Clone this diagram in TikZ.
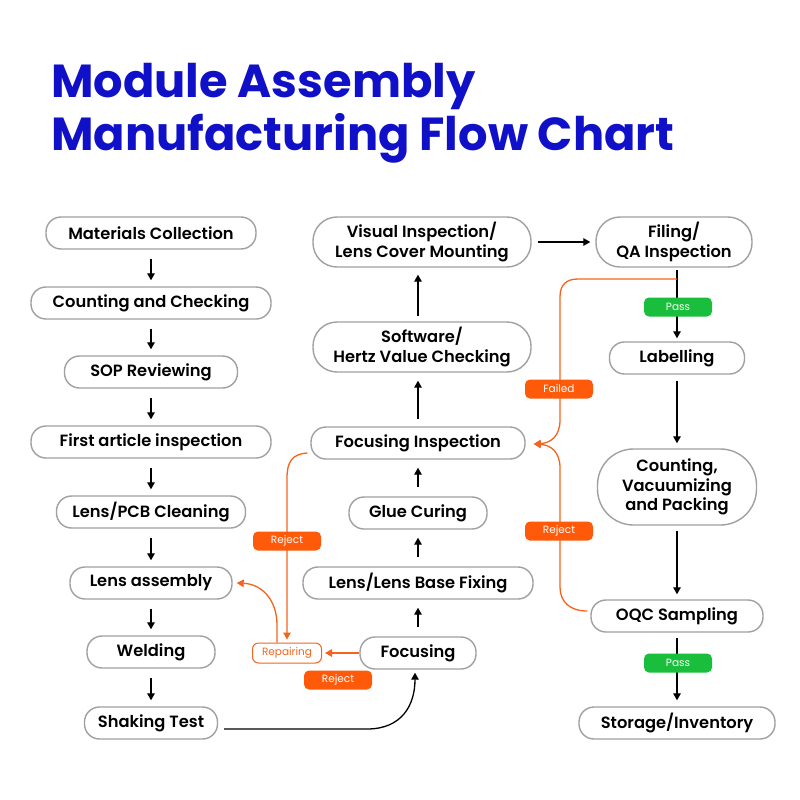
\documentclass[tikz,border=0pt]{standalone}
\usepackage{fontspec}
\setmainfont{Poppins}[BoldFont={Poppins SemiBold}]
\newfontfamily\ttlfont{Poppins Bold}
\usetikzlibrary{arrows.meta}
\definecolor{ttl}{RGB}{16,16,200}
\definecolor{bd}{RGB}{160,160,160}
\definecolor{org}{RGB}{245,100,30}
\definecolor{orgf}{RGB}{255,90,10}
\definecolor{grn}{RGB}{25,190,60}
\begin{document}
\begin{tikzpicture}[x=1pt,y=-1pt,
  box/.style={draw=bd, line width=1.4pt, rounded corners=15pt, minimum height=32pt,
    inner sep=0pt, align=center, font=\fontsize{16.3}{19.5}\selectfont\bfseries, text=black},
  boxtwo/.style={box, minimum height=50pt, rounded corners=24pt},
  boxthree/.style={box, minimum height=76pt, rounded corners=36pt},
  ar/.style={-{Triangle[length=7pt,width=7.5pt]}, line width=1.3pt, black},
  oar/.style={-{Triangle[length=7pt,width=7.5pt]}, line width=1.3pt, org},
  rej/.style={fill=orgf, rounded corners=5pt, minimum width=68pt, minimum height=19pt,
    inner sep=0pt, text=white, font=\fontsize{10.5}{12}\selectfont},
  pass/.style={rej, fill=grn},
  rep/.style={draw=org, line width=1pt, rounded corners=6pt, minimum width=69pt, minimum height=20pt,
    inner sep=0pt, text=org, font=\fontsize{10.5}{12}\selectfont},
  ttlstyle/.style={anchor=base west, inner sep=0pt, text=ttl, font=\fontsize{46.3}{50}\selectfont\ttlfont}
]
\useasboundingbox (0,0) rectangle (800,800);
\fill[white] (0,0) rectangle (800,800);

% title
\node[ttlstyle] (t1) at (51,97) {Module Assembly};
\node[ttlstyle] (t2) at (51,150) {Manufacturing Flow Chart};

% left column
\node[box, minimum width=210pt] (mc) at (151,233) {Materials Collection};
\node[box, minimum width=240pt] (cc) at (151,303) {Counting and Checking};
\node[box, minimum width=173pt] (sop) at (151,372) {SOP Reviewing};
\node[box, minimum width=240pt] (fa) at (151,442) {First article inspection};
\node[box, minimum width=189pt] (pcb) at (151,512) {Lens/PCB Cleaning};
\node[box, minimum width=162pt] (la) at (151,583) {Lens assembly};
\node[box, minimum width=128pt] (wd) at (151,652) {Welding};
\node[box, minimum width=133pt] (st) at (151,723) {Shaking Test};

% middle column
\node[boxtwo, minimum width=218pt] (vi) at (422,242) {Visual Inspection/\\Lens Cover Mounting};
\node[boxtwo, minimum width=218pt] (sw) at (422,347) {Software/\\Hertz Value Checking};
\node[box, minimum width=214pt] (fi) at (418,443) {Focusing Inspection};
\node[box, minimum width=138pt] (gc) at (418,513) {Glue Curing};
\node[box, minimum width=230pt] (lb) at (418,583) {Lens/Lens Base Fixing};
\node[box, minimum width=116pt] (fo) at (418,653) {Focusing};
\node[rep] (rp) at (287,653) {Repairing};

% right column
\node[boxtwo, minimum width=156pt] (qa) at (674,242) {Filing/\\QA Inspection};
\node[box, minimum width=135pt] (lab) at (677,358) {Labelling};
\node[boxthree, minimum width=159pt] (cvp) at (677,487) {Counting,\\Vacuumizing\\and Packing};
\node[box, minimum width=172pt] (oqc) at (677,616) {OQC Sampling};
\node[box, minimum width=196pt] (si) at (677,723) {Storage/Inventory};

% left arrows
\foreach \a/\b in {mc/cc, cc/sop, sop/fa, fa/pcb, pcb/la, la/wd, wd/st}
  \draw[ar, shorten <=9pt, shorten >=6pt] (\a) -- (\b);

% middle arrows
\draw[ar, shorten <=9pt, shorten >=8pt] (fo) -- (lb);
\draw[ar, shorten <=9pt, shorten >=8pt] (lb) -- (gc);
\draw[ar, shorten <=9pt, shorten >=8pt] (gc) -- (fi);
\draw[ar, shorten <=7pt, shorten >=8pt] (fi.north) -- (sw.south -| fi.north);
\draw[ar, shorten <=5pt, shorten >=7pt] (sw.north -| fi.north) -- (vi.south -| fi.north);
\draw[ar, shorten <=6pt, shorten >=5pt] (vi) -- (qa);

% right arrows
\coordinate (qs) at (677,267);
\coordinate (b1) at (677,279);
\draw[ar, shorten <=3pt, shorten >=3pt] (qs) -- (lab.north);
\draw[ar, shorten <=6pt, shorten >=5pt] (lab) -- (cvp);
\draw[ar, shorten <=5pt, shorten >=5pt] (cvp) -- (oqc);
\draw[ar, shorten <=5pt, shorten >=6pt] (oqc) -- (si);

% shaking test -> focusing
\draw[ar] ([xshift=6pt,yshift=-6pt]st.east) -- (367,729)
  .. controls (402,729) and (415,705) .. ([xshift=-3pt,yshift=-3pt]fo.south);

% orange loops
\draw[oar, shorten >=3pt] (fo.west) -- (rp.east);
\draw[oar] ([xshift=-3pt,yshift=-10pt]fi.west) .. controls (292,454) and (287,462) .. (287,478)
  -- ([yshift=3pt]rp.north);
\draw[oar] ([xshift=-10pt]rp.north) -- (277,625) .. controls (277,600) and (262,584) .. ([xshift=4pt]la.east);
\draw[oar] (b1) -- (578,279) .. controls (566,279) and (560,285) .. (560,297) -- (560,420)
  .. controls (560,436) and (551,443) .. ([xshift=8pt,yshift=-1pt]fi.east);
\draw[oar] ([xshift=-3pt,yshift=5pt]oqc.west) .. controls (570,611) and (560,602) .. (560,587)
  -- (560,468) .. controls (560,452) and (551,445) .. ([xshift=8pt,yshift=-1pt]fi.east);

% labels
\node[rej] (r1) at (287,541) {Reject};
\node[rej] (r2) at (338,680) {Reject};
\node[rej] (r3) at (559,389) {Failed};
\node[rej] (r4) at (559,531) {Reject};
\node[pass] (p1) at (678,307) {Pass};
\node[pass] (p2) at (678,663) {Pass};
\end{tikzpicture}
\end{document}
